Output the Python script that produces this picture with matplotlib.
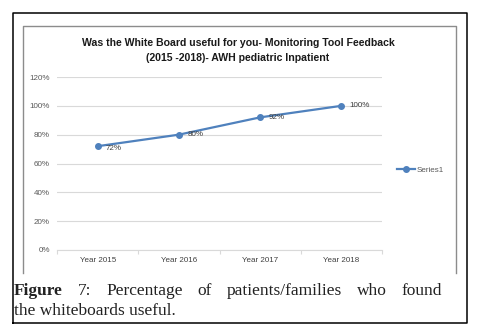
import matplotlib
matplotlib.use("Agg")
import matplotlib.pyplot as plt
from matplotlib.lines import Line2D

W, H = 478, 330

years = ["Year 2015", "Year 2016", "Year 2017", "Year 2018"]
useful = [0.72, 0.80, 0.92, 1.00]
point_labels = ["72%", "80%", "92%", "100%"]
y_ticks = [0, 0.2, 0.4, 0.6, 0.8, 1.0, 1.2]
y_tick_labels = ["0%", "20%", "40%", "60%", "80%", "100%", "120%"]
title_lines = ["Was the White Board useful for you- Monitoring Tool Feedback",
               "(2015 -2018)- AWH pediatric Inpatient"]
caption_line1 = ["Figure", "7:", "Percentage", "of", "patients/families", "who", "found"]
caption_line2 = "the whiteboards useful."

blue = "#4F81BD"
grid = "#D9D9D9"
tick_col = "#595959"


def fx(px):
    return px / W


def fy(py):
    return 1 - py / H


fig = plt.figure(figsize=(W / 100, H / 100), dpi=100)

# plot area
ax = fig.add_axes([fx(57), fy(250), fx(382) - fx(57), fy(77) - fy(250)])
x = list(range(len(years)))
ax.plot(x, useful, color=blue, lw=1.6, marker="o", markersize=4, label="Series1")
for xi, yi, lab in zip(x, useful, point_labels):
    ax.annotate(lab, (xi, yi), xytext=(6, -2 if yi < 0.75 else 0),
                textcoords="offset points", ha="left", va="center",
                fontsize=5.8, color="#404040", family="Liberation Sans")

ax.set_xlim(-0.5, 3.5)
ax.set_ylim(0, 1.2)
ax.set_yticks(y_ticks)
ax.set_yticklabels(y_tick_labels)
ax.set_xticks(x)
ax.set_xticklabels(years)
ax.set_xticks([-0.5, 0.5, 1.5, 2.5, 3.5], minor=True)
ax.tick_params(axis="y", length=0, labelsize=5.8, labelcolor=tick_col, pad=5)
ax.tick_params(axis="x", which="major", length=0, labelsize=5.8,
               labelcolor="#404040", pad=5)
ax.tick_params(axis="x", which="minor", length=3, color=grid, width=0.8)
for lab in ax.get_xticklabels() + ax.get_yticklabels():
    lab.set_family("Liberation Sans")
ax.grid(axis="y", color=grid, lw=0.8)
ax.set_axisbelow(True)
for s in ["top", "right", "left"]:
    ax.spines[s].set_visible(False)
ax.spines["bottom"].set_color(grid)
ax.spines["bottom"].set_linewidth(0.8)

leg = ax.legend(loc="center left", bbox_to_anchor=(fx(394), fy(170)),
                bbox_transform=fig.transFigure, frameon=False,
                prop={"family": "Liberation Sans", "size": 5.8},
                handlelength=2.2, handletextpad=0.2, borderaxespad=0)
for t in leg.get_texts():
    t.set_color(tick_col)

# title
for i, line in enumerate(title_lines):
    fig.text(fx(238), fy(43 + 15 * i), line, ha="center", va="center",
             fontsize=7.6, fontweight="bold", family="Liberation Sans",
             color="#1a1a1a")

# chart frame (grey, open at the bottom) and outer black border
fig.add_artist(Line2D([fx(23), fx(23), fx(456), fx(456)],
                      [fy(273), fy(26), fy(26), fy(273)],
                      color="#8c8c8c", lw=1.0))
fig.add_artist(Line2D([fx(12.5), fx(12.5), fx(467), fx(467), fx(12.5)],
                      [fy(323), fy(12.5), fy(12.5), fy(323), fy(323)],
                      color="black", lw=1.1))

# caption, justified on first line
renderer = fig.canvas.get_renderer()
left, right = 14, 442
words = []
for i, w in enumerate(caption_line1):
    words.append(fig.text(0, fy(295), w, ha="left", va="baseline",
                          fontsize=12.5, family="Liberation Serif",
                          fontweight="bold" if i == 0 else "normal",
                          color="#222222"))
widths = [t.get_window_extent(renderer).width for t in words]
gap = (right - left - sum(widths)) / (len(words) - 1)
pos = left
for t, wd in zip(words, widths):
    t.set_x(fx(pos))
    pos += wd + gap
fig.text(fx(left), fy(315), caption_line2, ha="left", va="baseline",
         fontsize=12.5, family="Liberation Serif", color="#222222")

fig.savefig("out.png", dpi=100)
